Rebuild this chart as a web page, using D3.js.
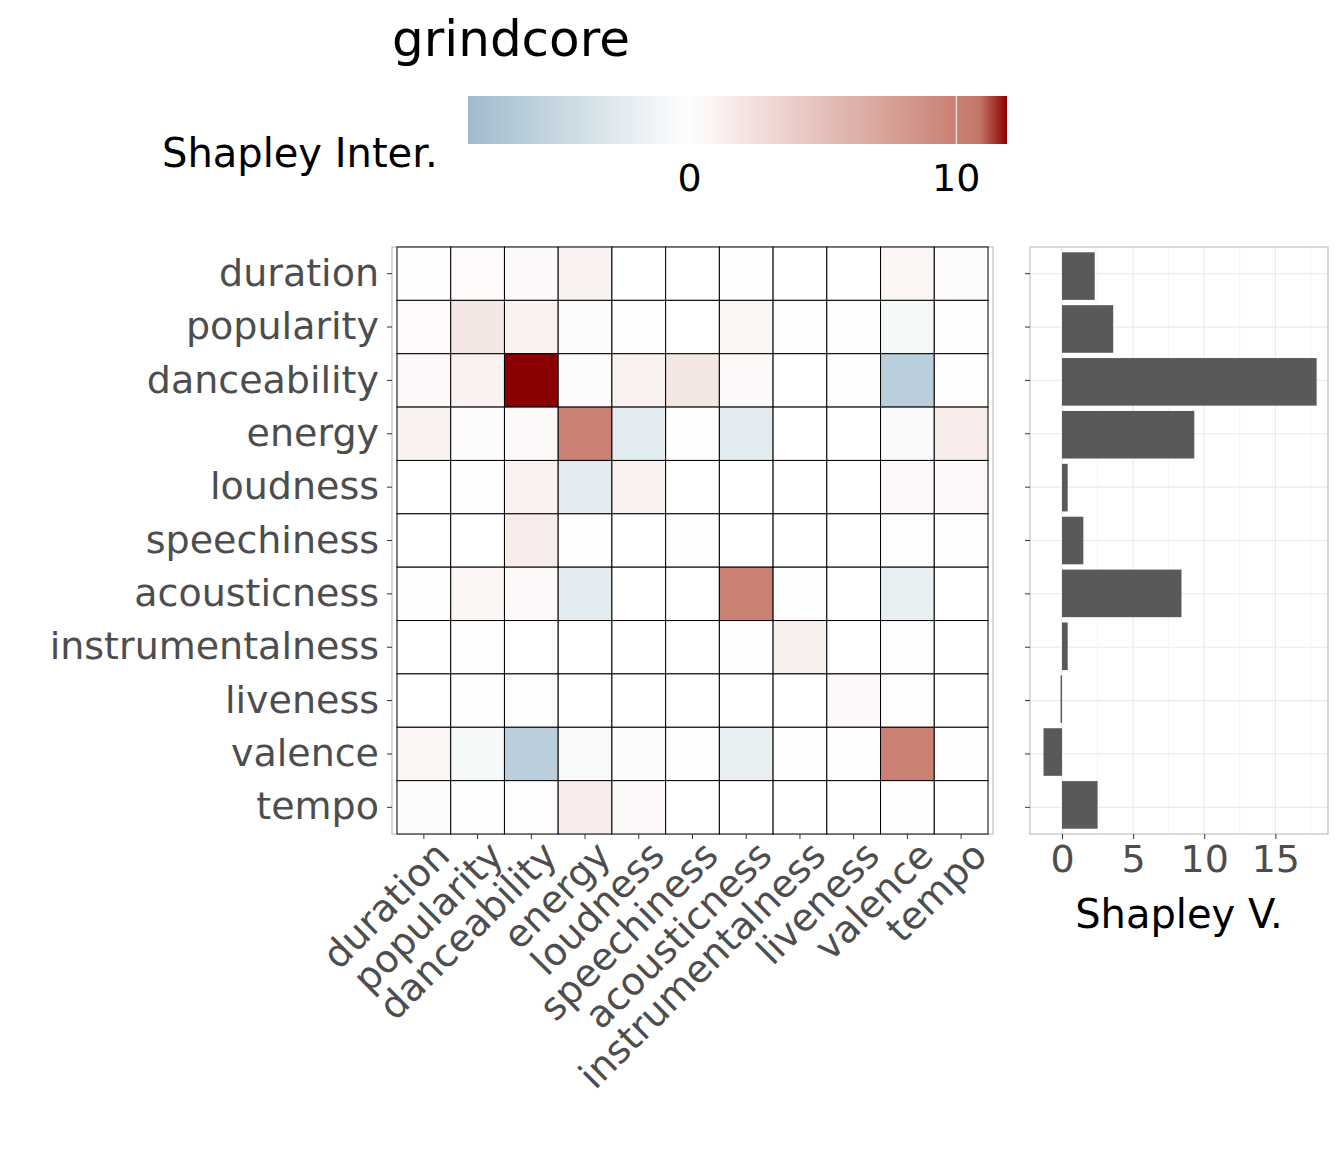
<!DOCTYPE html>
<html><head><meta charset="utf-8">
<script src="https://cdn.jsdelivr.net/npm/d3@7"></script>
<style>body{margin:0;background:#fff;font-family:"DejaVu Sans",sans-serif;}</style>
</head><body><div id="chart"></div>
<script>
const features = ["duration","popularity","danceability","energy","loudness","speechiness","acousticness","instrumentalness","liveness","valence","tempo"];
const interactions = [
  [0.1, 0.4, 0.5, 1.0, 0, 0, -0.3, 0, 0, 0.8, 0.3],
  [0.4, 2.0, 1.0, 0.3, 0.2, 0, 0.8, -0.2, 0.1, -0.8, 0.1],
  [0.5, 1.0, 15, 0.3, 1.0, 2.0, 0.5, 0, -0.3, -6.0, 0.2],
  [1.0, 0.3, 0.5, 10, -2.5, 0.1, -2.5, 0, 0, -0.7, 1.5],
  [0, 0.2, 1.0, -2.5, 1.0, 0, 0, 0, 0, 0.5, 0.5],
  [0, 0, 1.5, 0.1, 0, 0.2, 0, 0, 0, -0.3, 0.1],
  [-0.3, 0.8, 0.5, -2.5, 0, 0, 10, -0.3, 0, -2.0, 0],
  [0, -0.2, 0, 0, 0, 0, -0.3, 1.2, 0, -0.2, 0],
  [0, 0.1, -0.3, 0, 0, 0, 0, 0, 0.5, 0.2, 0],
  [0.8, -0.8, -6.0, -0.7, 0.3, -0.3, -2.0, -0.2, 0.2, 10, 0.1],
  [0.3, 0.1, 0.2, 1.5, 0.5, 0, 0, 0, 0, 0.1, 0]
];
const shapleyValues = [2.3, 3.6, 17.9, 9.3, 0.4, 1.5, 8.4, 0.4, -0.1, -1.3, 2.5];
const legendTicks = [0, 10];
const barTicks = [0, 5, 10, 15];

const W = 1344, H = 1152;
const svg = d3.select("#chart").append("svg").attr("width", W).attr("height", H);

// colour scale
const lo = -8.3, hi = 11.9;
const color = v => {
  if (v > hi) return "#8b0000";
  if (v <= 0) return d3.interpolateRgb("#ffffff", "#a0bccd")(Math.min(1, v / lo));
  return d3.interpolateRgb("#ffffff", "#c0695a")(v / hi);
};

// heatmap
const x = d3.scaleBand().domain(features).range([397, 988]);
const y = d3.scaleBand().domain(features).range([247, 834]);
svg.append("rect").attr("x", 392).attr("y", 247).attr("width", 601).attr("height", 587)
  .attr("fill", "none").attr("stroke", "#b3b3b3");
const cells = [];
interactions.forEach((row, i) => row.forEach((v, j) => cells.push({r: features[i], c: features[j], v})));
svg.selectAll(".cell").data(cells).enter().append("rect")
  .attr("x", d => x(d.c)).attr("y", d => y(d.r))
  .attr("width", x.bandwidth()).attr("height", y.bandwidth())
  .attr("fill", d => color(d.v)).attr("stroke", "#000").attr("stroke-width", 1);

// axes
const tickStyle = s => s.selectAll("text").attr("fill", "#4d4d4d").style("font-size", "38px").style("font-family", "DejaVu Sans");
const ax = svg.append("g").attr("transform", "translate(392,0)").call(d3.axisLeft(y).tickSize(5).tickPadding(8));
ax.select(".domain").remove(); ax.selectAll("line").attr("stroke", "#333"); tickStyle(ax);
const bx = svg.append("g").attr("transform", "translate(0,834)").call(d3.axisBottom(x).tickSize(5).tickPadding(6));
bx.select(".domain").remove(); bx.selectAll("line").attr("stroke", "#333"); tickStyle(bx);
bx.selectAll("text").attr("text-anchor", "end").attr("dy", "0.3em")
  .attr("transform", "translate(12,8) rotate(-45)");

// bar panel
const bxs = d3.scaleLinear().domain([-2.25, 18.7]).range([1030, 1328]);
const by = d3.scaleBand().domain(features).range([247, 834]).padding(0.1);
const grid = svg.append("g");
grid.selectAll(".gx").data(d3.range(-2.5, 18.6, 2.5).filter(v => v > -2.25)).enter().append("line")
  .attr("x1", d => bxs(d)).attr("x2", d => bxs(d)).attr("y1", 247).attr("y2", 834)
  .attr("stroke", "#ebebeb").attr("stroke-width", d => d % 5 === 0 ? 1.2 : 0.6);
grid.selectAll(".gy").data(features).enter().append("line")
  .attr("x1", 1030).attr("x2", 1328).attr("y1", d => y(d) + y.bandwidth() / 2).attr("y2", d => y(d) + y.bandwidth() / 2)
  .attr("stroke", "#ebebeb").attr("stroke-width", 1.2);
svg.selectAll(".bar").data(shapleyValues).enter().append("rect")
  .attr("x", d => bxs(Math.min(0, d))).attr("y", (d, i) => by(features[i]))
  .attr("width", d => Math.abs(bxs(d) - bxs(0))).attr("height", by.bandwidth())
  .attr("fill", "#595959");
svg.append("rect").attr("x", 1030).attr("y", 247).attr("width", 298).attr("height", 587)
  .attr("fill", "none").attr("stroke", "#b3b3b3");
const ly = svg.append("g").attr("transform", "translate(1030,0)").call(d3.axisLeft(y).tickSize(5).tickFormat(""));
ly.select(".domain").remove(); ly.selectAll("line").attr("stroke", "#333");
const lx = svg.append("g").attr("transform", "translate(0,834)").call(d3.axisBottom(bxs).tickValues(barTicks).tickSize(5).tickPadding(6));
lx.select(".domain").remove(); lx.selectAll("line").attr("stroke", "#333"); tickStyle(lx);
svg.append("text").attr("x", 1179).attr("y", 928).attr("text-anchor", "middle")
  .style("font-size", "40px").text("Shapley V.");

// title & legend
svg.append("text").attr("x", 392).attr("y", 56).style("font-size", "50px").text("grindcore");
const defs = svg.append("defs");
const grad = defs.append("linearGradient").attr("id", "lg");
d3.range(0, 1.001, 0.05).forEach(t => {
  const v = lo + t * (hi - lo);
  grad.append("stop").attr("offset", t).attr("stop-color", color(v));
});
const lgx = d3.scaleLinear().domain([lo, hi]).range([468, 1007]);
svg.append("rect").attr("x", 468).attr("y", 96).attr("width", 539).attr("height", 48).attr("fill", "url(#lg)");
svg.selectAll(".lt").data(legendTicks).enter().append("line")
  .attr("x1", d => lgx(d)).attr("x2", d => lgx(d)).attr("y1", 96).attr("y2", 144)
  .attr("stroke", "#fff").attr("stroke-width", 1);
svg.selectAll(".ltx").data(legendTicks).enter().append("text")
  .attr("x", d => lgx(d)).attr("y", 191).attr("text-anchor", "middle")
  .style("font-size", "38px").text(d => d);
svg.append("text").attr("x", 162).attr("y", 167).style("font-size", "40px").text("Shapley Inter.");
</script></body></html>
